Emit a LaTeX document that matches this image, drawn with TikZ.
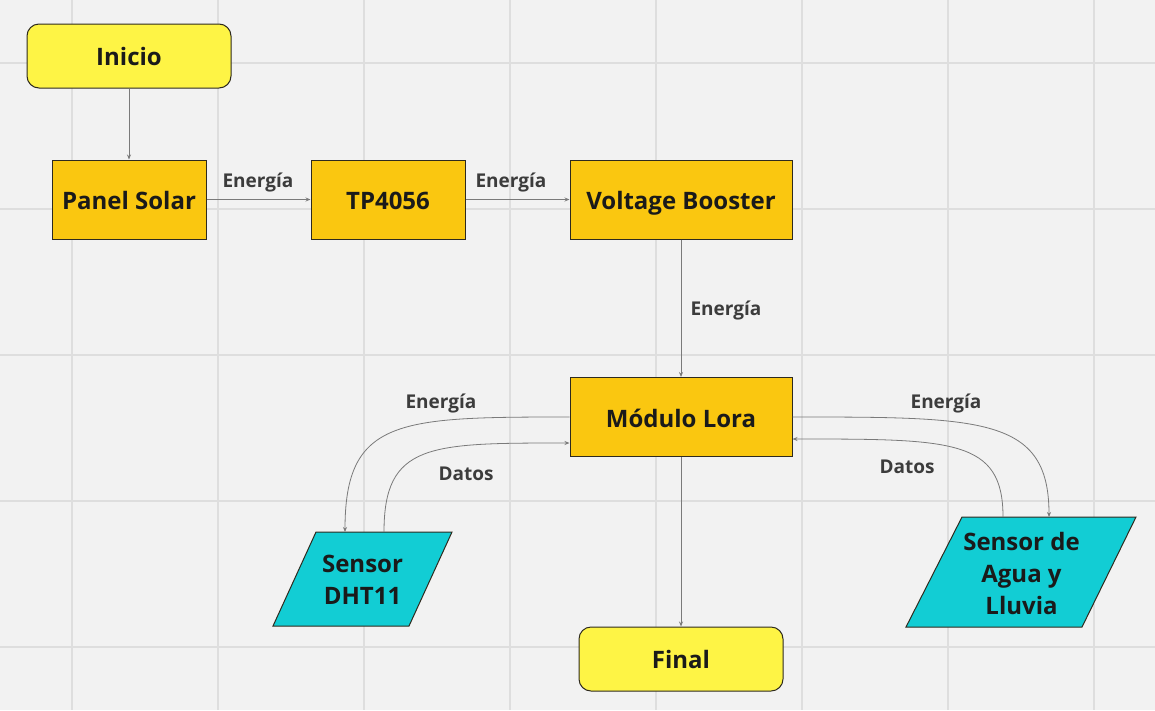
\documentclass[tikz,border=0pt]{standalone}
\usepackage{fontspec}
\setmainfont{Open Sans}
\usetikzlibrary{arrows.meta}

\definecolor{fondo}{HTML}{F2F2F2}
\definecolor{rejilla}{HTML}{DEDEDE}
\definecolor{naranja}{HTML}{FAC710}
\definecolor{amarillo}{HTML}{FEF445}
\definecolor{cian}{HTML}{12CDD4}
\definecolor{borde}{HTML}{2E2A1E}
\definecolor{linea}{HTML}{7A7A7A}
\definecolor{texto}{HTML}{1A1A1A}

\tikzset{
  bloque/.style={draw=borde, fill=naranja, line width=1pt, minimum height=79pt,
    inner sep=0pt, text height=20pt, text depth=0pt, text=texto,
    font=\fontsize{24}{28}\selectfont\bfseries},
  terminal/.style={draw=borde, fill=amarillo, line width=1pt, rounded corners=12pt,
    minimum width=204pt, minimum height=64pt, inner sep=0pt, text height=19pt,
    text depth=0pt, text=texto, font=\fontsize{24}{28}\selectfont\bfseries},
  sensor/.style={draw=borde, fill=cian, line width=1pt},
  sensortexto/.style={align=center, text=texto, font=\fontsize{24}{32}\selectfont\bfseries},
  flecha/.style={draw=linea, line width=0.8pt, -{Stealth[length=5pt,width=4pt]}},
  etiqueta/.style={text=texto!85, font=\fontsize{19}{22}\selectfont\bfseries},
}

\begin{document}
\begin{tikzpicture}[x=1pt, y=-1pt]
        % Draw the background and the grid
        \fill[fondo] (0,0) rectangle (1155,710);
        \useasboundingbox (0,0) rectangle (1155,710);
        \foreach \k in {0,...,7}
            \draw[rejilla, line width=1.1pt] (72+146*\k,0) -- (72+146*\k,710);
        \foreach \k in {0,...,4}
            \draw[rejilla, line width=1.1pt] (0,63+146*\k) -- (1155,63+146*\k);

        % Draw the blocks
        \node[terminal] (inicio) at (129,56) {Inicio};
        \node[bloque, minimum width=154pt] (panel) at (129,199.5) {Panel Solar};
        \node[bloque, minimum width=154pt] (tp) at (388,199.5) {TP4056};
        \node[bloque, minimum width=222pt] (booster) at (681,199.5) {Voltage Booster};
        \node[bloque, minimum width=222pt] (lora) at (681,417) {Módulo Lora};
        \node[terminal] (final) at (681,659) {Final};

        % Draw the sensors
        \draw[sensor] (316,532) -- (452,532) -- (409,626) -- (273,626) -- cycle;
        \node[sensortexto] (dht) at (362.5,580) {Sensor\\DHT11};
        \draw[sensor] (962,517) -- (1136,517) -- (1082,627) -- (906,627) -- cycle;
        \node[sensortexto] (agua) at (1021.5,573) {Sensor de\\Agua y\\Lluvia};
        \coordinate (dhtin) at (345,532);
        \coordinate (dhtout) at (384,532);
        \coordinate (aguain) at (1049,517);
        \coordinate (aguaout) at (1003,517);

        % Draw the connections
        \draw[flecha] (inicio) -- (panel);
        \draw[flecha] (panel) -- (tp);
        \draw[flecha] (tp) -- (booster);
        \draw[flecha] (booster) -- (lora);
        \draw[flecha] (lora) -- (final);
        \draw[flecha] (lora.west) to[out=180, in=90, out distance=170pt, in distance=114pt] (dhtin);
        \draw[flecha] (dhtout) to[out=90, in=180, out distance=89pt, in distance=140pt] ([yshift=-26pt]lora.west);
        \draw[flecha] (lora.east) to[out=0, in=90, out distance=190pt, in distance=100pt] (aguain);
        \draw[flecha] (aguaout) to[out=90, in=0, out distance=78pt, in distance=160pt] ([yshift=-22pt]lora.east);

        % Label the connections
        \node[etiqueta] (e1) at (258,182) {Energía};
        \node[etiqueta] (e2) at (511,182) {Energía};
        \node[etiqueta] (e3) at (726,310) {Energía};
        \node[etiqueta] (e4) at (441,403) {Energía};
        \node[etiqueta] (d1) at (466,474) {Datos};
        \node[etiqueta] (e5) at (946,403) {Energía};
        \node[etiqueta] (d2) at (907,467) {Datos};
    \end{tikzpicture}
\end{document}
